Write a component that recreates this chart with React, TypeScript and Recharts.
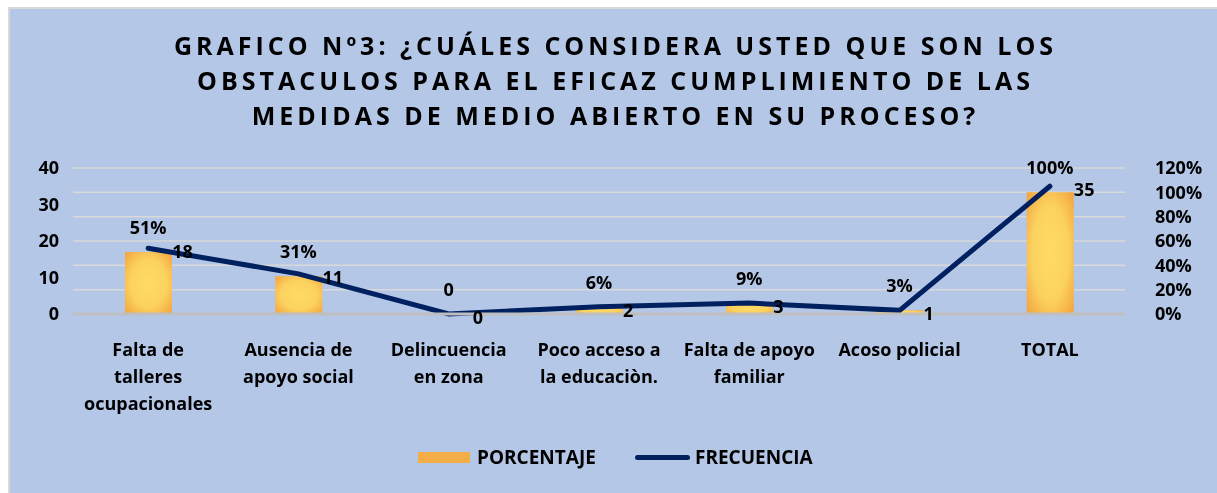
import React from "react";
import {
  ComposedChart,
  Bar,
  Line,
  XAxis,
  YAxis,
  CartesianGrid,
  LabelList,
} from "recharts";

const categories = [
  "Falta de\ntalleres\nocupacionales",
  "Ausencia de\napoyo social",
  "Delincuencia\nen zona",
  "Poco acceso a\nla educaciòn.",
  "Falta de apoyo\nfamiliar",
  "Acoso policial",
  "TOTAL",
];
const porcentaje = [0.51, 0.31, 0, 0.06, 0.09, 0.03, 1];
const frecuencia = [18, 11, 0, 2, 3, 1, 35];
const leftTicks = [0, 10, 20, 30, 40];
const rightTicks = [0, 0.2, 0.4, 0.6, 0.8, 1, 1.2];
const titleLines = [
  "GRAFICO Nº3: ¿CUÁLES CONSIDERA USTED QUE SON LOS",
  "OBSTACULOS PARA EL EFICAZ CUMPLIMIENTO DE LAS",
  "MEDIDAS DE MEDIO ABIERTO EN SU PROCESO?",
];

const FONT = "'Open Sans', Lato, sans-serif";
const W = 700;
const FS = 18;
const NAVY = "#002060";

const rows = categories.map((c, i) => ({
  name: c,
  pct: porcentaje[i],
  freq: frecuencia[i],
}));

const fmtPct = (v: number) => (v === 0 ? "0" : `${Math.round(v * 100)}%`);

function CatTick(props: any) {
  const { x, y, payload } = props;
  const lines = String(payload.value).split("\n");
  return (
    <g>
      {lines.map((ln, i) => (
        <text
          key={i}
          x={x}
          y={y + 34 + i * 27}
          textAnchor="middle"
          fontFamily={FONT}
          fontWeight={W}
          fontSize={FS}
          fill="#000"
        >
          {ln}
        </text>
      ))}
    </g>
  );
}

function FreqLabel(props: any) {
  const { x, y, value } = props;
  return (
    <text
      x={x + 24}
      y={y + 3}
      dominantBaseline="central"
      fontFamily={FONT}
      fontWeight={W}
      fontSize={FS}
      fill="#000"
    >
      {value}
    </text>
  );
}

function PctLabel(props: any) {
  const { x, y, value } = props;
  return (
    <text
      x={x}
      y={y - 25}
      textAnchor="middle"
      dominantBaseline="central"
      fontFamily={FONT}
      fontWeight={W}
      fontSize={FS}
      fill="#000"
    >
      {fmtPct(Number(value))}
    </text>
  );
}

const tickStyle = { fontFamily: FONT, fontWeight: W, fontSize: FS, fill: "#000" };

const legendText: React.CSSProperties = {
  position: "absolute",
  top: 445,
  fontFamily: FONT,
  fontWeight: W,
  fontSize: 19,
  lineHeight: "24px",
  color: "#000",
};

export default function App() {
  return (
    <div
      style={{
        position: "fixed",
        left: 0,
        top: 0,
        width: 1217,
        height: 493,
        overflow: "hidden",
      }}
    >
      <div
        style={{
          position: "absolute",
          left: 8,
          top: 7,
          width: 1209,
          height: 486,
          background: "#B4C7E7",
          borderLeft: "2px solid #d9d9d9",
          borderTop: "2px solid #d9d9d9",
          boxSizing: "border-box",
        }}
      />
      <div
        style={{
          position: "absolute",
          left: 0,
          top: 28,
          width: 1231,
          textAlign: "center",
          fontFamily: FONT,
          fontWeight: W,
          fontSize: 25,
          letterSpacing: 4,
          lineHeight: "35px",
          color: "#000",
        }}
      >
        {titleLines.map((t, i) => (
          <div key={i}>{t}</div>
        ))}
      </div>
      <ComposedChart
        width={1217}
        height={493}
        data={rows}
        margin={{ top: 168, right: 12, bottom: 69, left: 13 }}
        style={{ position: "absolute", left: 0, top: 0 }}
      >
        <defs>
          <radialGradient id="barGrad" cx="50%" cy="50%" r="70%">
            <stop offset="0%" stopColor="#FFDA66" />
            <stop offset="55%" stopColor="#FCD25F" />
            <stop offset="100%" stopColor="#F2A23E" />
          </radialGradient>
        </defs>
        <CartesianGrid
          yAxisId="right"
          vertical={false}
          stroke="#d9d9d9"
          strokeWidth={1.5}
        />
        <XAxis
          dataKey="name"
          interval={0}
          tick={<CatTick />}
          tickLine={false}
          axisLine={{ stroke: "#bfbfbf", strokeWidth: 3 }}
          height={110}
        />
        <YAxis
          yAxisId="left"
          orientation="left"
          domain={[0, 40]}
          ticks={leftTicks}
          interval={0}
          width={60}
          axisLine={false}
          tickLine={false}
          tickMargin={8}
          tick={tickStyle}
        />
        <YAxis
          yAxisId="right"
          orientation="right"
          domain={[0, 1.2]}
          ticks={rightTicks}
          interval={0}
          width={80}
          axisLine={false}
          tickLine={false}
          tickMargin={24}
          tickFormatter={(v: number) => `${Math.round(v * 100)}%`}
          tick={tickStyle}
        />
        <Bar
          yAxisId="right"
          dataKey="pct"
          barSize={47}
          fill="url(#barGrad)"
          isAnimationActive={false}
        />
        <Line
          yAxisId="right"
          dataKey="pct"
          stroke="none"
          dot={false}
          activeDot={false}
          legendType="none"
          isAnimationActive={false}
        >
          <LabelList dataKey="pct" content={<PctLabel />} />
        </Line>
        <Line
          yAxisId="left"
          dataKey="freq"
          stroke={NAVY}
          strokeWidth={5}
          strokeLinecap="round"
          dot={false}
          activeDot={false}
          isAnimationActive={false}
        >
          <LabelList dataKey="freq" content={<FreqLabel />} />
        </Line>
      </ComposedChart>
      <span
        style={{
          position: "absolute",
          left: 418,
          top: 452,
          width: 52,
          height: 11,
          background: "#F4AE47",
        }}
      />
      <span style={{ ...legendText, left: 477 }}>PORCENTAJE</span>
      <span
        style={{
          position: "absolute",
          left: 635,
          top: 455,
          width: 55,
          height: 5,
          borderRadius: 3,
          background: NAVY,
        }}
      />
      <span style={{ ...legendText, left: 695 }}>FRECUENCIA</span>
    </div>
  );
}
